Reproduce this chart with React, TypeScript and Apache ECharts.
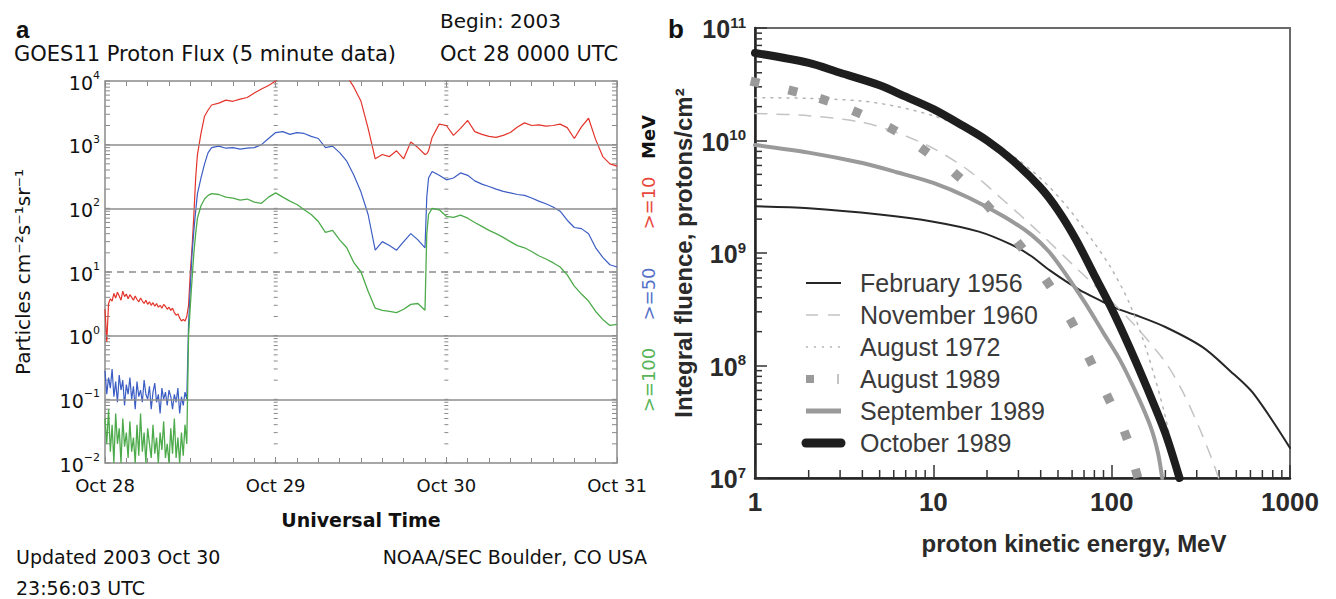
import React, { useEffect, useRef } from 'react';
import * as echarts from 'echarts';

// ---------- Panel a : GOES11 proton flux ----------
const hours = [
  0, 0.25, 0.5, 0.75, 1, 1.25, 1.5, 1.75, 2, 2.25, 2.5, 2.75, 3, 3.25, 3.5, 3.75, 4, 4.25, 4.5, 4.75,
  5, 5.25, 5.5, 5.75, 6, 6.25, 6.5, 6.75, 7, 7.25, 7.5, 7.75, 8, 8.25, 8.5, 8.75, 9, 9.25, 9.5, 9.75,
  10, 10.25, 10.5, 10.75, 11, 11.25, 11.5,
  11.75, 12, 12.25, 12.5, 12.75, 13, 13.5, 14, 14.5, 15,
  16, 17, 18, 19, 20, 21, 22, 23, 24, 25, 26, 27, 28, 29, 30, 31, 32, 33, 34, 35, 36, 37, 38, 39, 40,
  41, 42, 43, 44, 45, 45.25, 45.5,
  46, 47, 48, 49, 50, 51, 52, 53, 54, 55, 56, 57, 58, 59, 60, 61, 62, 63, 64, 65, 66, 67, 68, 69, 70, 71, 72,
];
const flux10 = [
  2.6, 0.8, 3.2, 3.8, 3.5, 4.6, 3.9, 4.8, 4.2, 3.6, 5.0, 4.1, 4.5, 3.8, 4.4, 4.0, 3.6, 4.2, 3.7, 3.4,
  3.9, 3.5, 3.2, 3.6, 3.1, 3.4, 3.0, 3.3, 2.9, 3.2, 2.8, 3.0, 2.7, 3.1, 2.9, 2.6, 2.8, 2.5, 2.7, 2.3,
  2.1, 2.2, 1.9, 1.7, 1.8, 1.7, 2.0,
  3.0, 10, 25, 80, 300, 700, 1500, 2800, 3500, 4200,
  4500, 5000, 4800, 5200, 5500, 6500, 7500, 8500, 10000, 13000, 15000, 16000, 16000, 16000, 15000,
  15000, 14000, 13000, 12000, 8000, 4800, 1800, 600, 700, 650, 800, 600, 1100, 900, 700, 720, 800,
  1300, 2100, 2000, 1400, 1800, 2400, 1600, 1450, 1350, 1300, 1400, 1550, 1900, 2200, 2000, 2050,
  1950, 2000, 2100, 1850, 1250, 1900, 2600, 1200, 650, 500, 460,
];
const flux50 = [
  0.28, 0.12, 0.22, 0.15, 0.3, 0.11, 0.19, 0.09, 0.24, 0.14, 0.2, 0.08, 0.17, 0.12, 0.22, 0.1, 0.16, 0.07, 0.19, 0.11,
  0.14, 0.09, 0.2, 0.12, 0.1, 0.16, 0.07, 0.13, 0.18, 0.09, 0.12, 0.06, 0.15, 0.1, 0.13, 0.08, 0.14, 0.11, 0.07, 0.12,
  0.09, 0.15, 0.06, 0.11, 0.08, 0.13, 0.1,
  1.5, 6, 20, 45, 90, 170, 300, 500, 750, 900,
  950, 880, 900, 850, 880, 900, 1000, 1250, 1550, 1600, 1450, 1550, 1500, 1350, 1250,
  900, 950, 750, 550, 330, 180, 80, 22, 30, 26, 22, 30, 40, 32, 24, 150, 300,
  380, 330, 280, 300, 360, 330, 270, 240, 220, 200, 185, 175, 165, 160, 145, 130,
  118, 105, 90, 65, 50, 48, 40, 24, 17, 13, 12,
];
const flux100 = [
  0.05, 0.02, 0.07, 0.015, 0.04, 0.01, 0.06, 0.02, 0.035, 0.01, 0.05, 0.018, 0.03, 0.012, 0.045, 0.015, 0.025, 0.01, 0.04, 0.013,
  0.06, 0.015, 0.03, 0.01, 0.035, 0.02, 0.012, 0.04, 0.014, 0.025, 0.01, 0.03, 0.016, 0.045, 0.012, 0.02, 0.01, 0.035, 0.014, 0.05,
  0.012, 0.025, 0.01, 0.03, 0.013, 0.04, 0.02,
  1.0, 3, 8, 20, 40, 70, 110, 140, 160, 170,
  165, 150, 145, 135, 140, 125, 120, 150, 175, 150, 130, 115, 95, 80, 62,
  42, 45, 32, 24, 14, 10, 5, 2.7, 2.5, 2.4, 2.3, 2.6, 3.1, 3.2, 2.5, 40, 80,
  100, 95, 75, 72, 78, 70, 60, 52, 45, 40, 35, 30, 26, 24, 21, 18,
  16, 14, 12, 9, 6, 4.5, 3.5, 2.4, 1.8, 1.45, 1.5,
];
const dayLabels = ['Oct 28', 'Oct 29', 'Oct 30', 'Oct 31'];
const fluxNames = ['>=100', '>=50', '>=10'];

// ---------- Panel b : integral fluence spectra ----------
const seriesNames = ['February 1956', 'November 1960', 'August 1972', 'August 1989', 'September 1989', 'October 1989'];
const febE = [1, 2, 5, 10, 18, 27, 35, 45, 66, 86, 107, 137, 200, 325, 460, 620, 1000];
const febF = [2.6e9, 2.5e9, 2.2e9, 1.9e9, 1.55e9, 1.2e9, 9.5e8, 7e8, 4.7e8, 3.8e8, 3.2e8, 2.8e8, 2.2e8, 1.45e8, 9e7, 5.7e7, 1.85e7];
const novE = [1, 2, 4, 6.3, 10, 15.8, 25, 40, 63, 100, 141, 200, 251, 316, 363, 398];
const novF = [1.74e10, 1.66e10, 1.45e10, 1.17e10, 8.5e9, 5.4e9, 2.9e9, 1.48e9, 7.4e8, 3.7e8, 2.1e8, 1.07e8, 5.8e7, 2.6e7, 1.5e7, 1e7];
const aug72E = [1, 2, 4, 6.3, 10, 14.1, 20, 28.2, 40, 56, 79, 100, 126, 158, 200, 234];
const aug72F = [2.4e10, 2.37e10, 2.24e10, 2.0e10, 1.66e10, 1.35e10, 1.02e10, 7.2e9, 4.6e9, 2.6e9, 1.26e9, 7.2e8, 3.55e8, 1.32e8, 3.5e7, 1e7];
const aug89E = [1, 1.63, 2.44, 3.73, 5.9, 8.9, 13.6, 20.3, 30.6, 44, 60, 76, 96, 120, 138];
const aug89F = [3.3e10, 2.75e10, 2.3e10, 1.78e10, 1.26e10, 8.2e9, 4.9e9, 2.6e9, 1.17e9, 5.4e8, 2.4e8, 1.1e8, 5.1e7, 2.4e7, 1.1e7];
const sepE = [1, 2, 4, 6.3, 10, 15.8, 25, 35.5, 44.7, 56, 71, 89, 112, 141, 166, 182, 192];
const sepF = [9.1e9, 7.8e9, 6.3e9, 5.2e9, 4.2e9, 3.1e9, 2.1e9, 1.45e9, 1.02e9, 6.3e8, 3.6e8, 2.0e8, 1.1e8, 5.2e7, 2.8e7, 1.66e7, 1e7];
const octE = [1, 2, 3, 5, 7, 10, 14, 20, 28, 40, 50, 63, 79, 100, 126, 158, 200, 240];
const octF = [6.0e10, 4.9e10, 4.0e10, 3.1e10, 2.45e10, 1.9e10, 1.41e10, 1.0e10, 6.6e9, 3.8e9, 2.4e9, 1.32e9, 6.6e8, 3.2e8, 1.45e8, 6.3e7, 2.5e7, 1e7];

const FA = '"DejaVu Sans", sans-serif';
const FB = '"Liberation Sans", Arial, sans-serif';

const pairs = (xs: number[], ys: number[]) => xs.map((x, i) => [x, ys[i]]);
const expText = (v: number) => {
  const e = Math.round(Math.log10(v));
  return e < 0 ? '\u2212' + -e : String(e);
};
const logMinors = (from: number, to: number, mults: number[]) => {
  const out: number[] = [];
  for (let e = from; e <= to; e++) for (const m of mults) out.push(m * Math.pow(10, e));
  return out;
};

export default function App() {
  const ref = useRef<HTMLDivElement>(null);
  useEffect(() => {
    const chart = echarts.init(ref.current!, undefined, { renderer: 'svg' });

    const redC = '#e3342b';
    const blueC = '#3c5ec4';
    const greenC = '#4dab4b';
    const axisGrey = '#8a8a8a';

    const aTickVals = logMinors(-2, 3, [1, 2, 3, 4, 5, 6, 7, 8, 9]).concat([10000]);
    const bYMinor = logMinors(7, 10, [2, 3, 4, 5, 6, 7, 8, 9]);
    const bXMinor = logMinors(0, 2, [2, 3, 4, 5, 6, 7, 8, 9]);

    const aug89Data = aug89E.map((e, i) => {
      const a = Math.max(0, i - 1);
      const b = Math.min(aug89E.length - 1, i + 1);
      const dx = (Math.log10(aug89E[b]) - Math.log10(aug89E[a])) * 178;
      const dy = (Math.log10(aug89F[b]) - Math.log10(aug89F[a])) * 112.5;
      return { value: [e, aug89F[i]], symbolRotate: (Math.atan2(dy, dx) * 180) / Math.PI };
    });

    const legendStyles: any[] = [
      { stroke: '#262626', lineWidth: 2 },
      { stroke: '#c4c4c4', lineWidth: 1.5, lineDash: [12, 10] },
      { stroke: '#b5b5b5', lineWidth: 1.5, lineDash: [2, 6] },
      null,
      { stroke: '#9a9a9a', lineWidth: 5 },
      { stroke: '#1e1e1e', lineWidth: 9, lineCap: 'round' },
    ];
    const legendEls: any[] = [];
    seriesNames.forEach((name, i) => {
      const y = 283 + i * 32;
      if (legendStyles[i]) {
        legendEls.push({ type: 'line', shape: { x1: 806, y1: y, x2: 841, y2: y }, style: legendStyles[i] });
      } else {
        legendEls.push({ type: 'rect', shape: { x: 806, y: y - 4, width: 8, height: 8 }, style: { fill: '#9a9a9a' } });
        legendEls.push({ type: 'line', shape: { x1: 838, y1: y - 5, x2: 838, y2: y + 5 }, style: { stroke: '#b0b0b0', lineWidth: 1.5 } });
      }
      legendEls.push({
        type: 'text', x: 860, y,
        style: { text: name, font: `25px ${FB}`, fill: '#3a3a3a', textAlign: 'left', textVerticalAlign: 'middle', align: 'left', verticalAlign: 'middle' },
      });
    });

    const txt = (text: string, x: number, y: number, font: string, align = 'left', fill = '#111', rotation = 0) => ({
      type: 'text', x, y, rotation,
      style: { text, font, fill, textAlign: align, textVerticalAlign: 'middle', align, verticalAlign: 'middle' },
    });

    const smoothLine = (name: string, xs: number[], ys: number[], color: string, width: number, type: any, z: number) => ({
      name, type: 'line', xAxisIndex: 2, yAxisIndex: 1, showSymbol: false, smooth: 0.3, z,
      data: pairs(xs, ys), lineStyle: { color, width, type, cap: 'round' }, itemStyle: { color },
    });

    const option: any = {
      animation: false,
      backgroundColor: '#ffffff',
      grid: [
        { left: 105, top: 81, width: 512, height: 382, show: true, borderColor: axisGrey, borderWidth: 1.5, backgroundColor: 'transparent' },
        { left: 755, top: 28, width: 535, height: 450, show: true, borderColor: '#6a6a6a', borderWidth: 2, backgroundColor: 'transparent' },
      ],
      xAxis: [
        {
          type: 'value', gridIndex: 0, min: 0, max: 72, interval: 24,
          axisLine: { show: false },
          axisTick: { inside: true, length: 6, lineStyle: { color: axisGrey } },
          minorTick: { show: true, splitNumber: 8, length: 5, lineStyle: { color: axisGrey } },
          splitLine: { show: false },
          axisLabel: { formatter: (v: number) => dayLabels[Math.round(v / 24)], fontSize: 18, fontFamily: FA, color: '#111', margin: 13 },
          name: 'Universal Time', nameLocation: 'middle', nameGap: 47,
          nameTextStyle: { fontSize: 19, fontWeight: 'bold', fontFamily: FA, color: '#111' },
        },
        {
          type: 'value', gridIndex: 0, position: 'top', min: 0, max: 72, interval: 24,
          axisLine: { show: false },
          axisTick: { inside: true, length: 6, lineStyle: { color: axisGrey } },
          minorTick: { show: true, splitNumber: 8, length: 5, lineStyle: { color: axisGrey } },
          splitLine: { show: false },
          axisLabel: { show: false },
        },
        {
          type: 'log', logBase: 10, gridIndex: 1, min: 1, max: 1000, splitNumber: 3,
          axisLine: { show: true, lineStyle: { color: '#222', width: 2.5 } },
          axisTick: { inside: true, length: 13, lineStyle: { color: '#333', width: 1.5 } },
          splitLine: { show: false },
          axisLabel: {
            fontSize: 26, fontWeight: 'bold', fontFamily: FB, color: '#2a2a2a', margin: 11, showMaxLabel: true,
            formatter: (v: number) => String(Math.round(v)),
          },
        },
      ],
      yAxis: [
        {
          type: 'log', logBase: 10, gridIndex: 0, min: 0.01, max: 10000, splitNumber: 6,
          axisLine: { show: false },
          axisTick: { show: false },
          splitLine: { show: false },
          axisLabel: {
            margin: 5,
            formatter: (v: number) => `{b|10}{s|${expText(v)}}`,
            rich: {
              b: { fontSize: 19, fontFamily: FA, color: '#111', verticalAlign: 'bottom', lineHeight: 22 },
              s: { fontSize: 11, fontFamily: FA, color: '#111', verticalAlign: 'top', lineHeight: 11 },
            },
          },
          name: 'Particles cm\u207B\u00B2s\u207B\u00B9sr\u207B\u00B9', nameLocation: 'middle', nameGap: 72, nameRotate: 90,
          nameTextStyle: { fontSize: 20, fontFamily: FA, color: '#111' },
        },
        {
          type: 'log', logBase: 10, gridIndex: 1, min: 1e7, max: 1e11, splitNumber: 4,
          axisLine: { show: true, lineStyle: { color: '#222', width: 2.5 } },
          axisTick: { inside: true, length: 12, lineStyle: { color: '#333', width: 1.5 } },
          splitLine: { show: false },
          axisLabel: {
            margin: 9,
            formatter: (v: number) => `{b|10}{s|${expText(v)}}`,
            rich: {
              b: { fontSize: 25, fontWeight: 'bold', fontFamily: FB, color: '#2a2a2a', verticalAlign: 'bottom', lineHeight: 27 },
              s: { fontSize: 15, fontWeight: 'bold', fontFamily: FB, color: '#2a2a2a', verticalAlign: 'top', lineHeight: 15 },
            },
          },
          name: 'Integral fluence, protons/cm\u00B2', nameLocation: 'middle', nameGap: 60, nameRotate: 90,
          nameTextStyle: { fontSize: 24, fontWeight: 'bold', fontFamily: FB, color: '#2a2a2a' },
        },
      ],
      series: [
        {
          type: 'custom', xAxisIndex: 0, yAxisIndex: 0, silent: true, z: 1,
          data: aTickVals.map((v) => [0, v]),
          renderItem: (params: any, api: any) => {
            const v = api.value(1);
            const l = api.coord([0, v]);
            const r = api.coord([72, v]);
            const d1 = api.coord([24, v]);
            const d2 = api.coord([48, v]);
            const st = { stroke: axisGrey, lineWidth: 1 };
            return {
              type: 'group',
              children: [
                { type: 'line', shape: { x1: l[0], y1: l[1], x2: l[0] + 5, y2: l[1] }, style: st },
                { type: 'line', shape: { x1: r[0] - 5, y1: r[1], x2: r[0], y2: r[1] }, style: st },
                { type: 'line', shape: { x1: d1[0] - 2, y1: d1[1], x2: d1[0] + 2, y2: d1[1] }, style: st },
                { type: 'line', shape: { x1: d2[0] - 2, y1: d2[1], x2: d2[0] + 2, y2: d2[1] }, style: st },
              ],
            };
          },
        },
        {
          name: fluxNames[2], type: 'line', xAxisIndex: 0, yAxisIndex: 0, showSymbol: false, z: 3,
          data: pairs(hours, flux10), lineStyle: { color: redC, width: 1.2 }, itemStyle: { color: redC },
          markLine: {
            silent: true, symbol: ['none', 'none'], label: { show: false },
            lineStyle: { color: '#8c8c8c', width: 1.5, type: 'solid' },
            data: [
              { yAxis: 1000 }, { yAxis: 100 },
              { yAxis: 10, lineStyle: { type: [7, 5], color: '#8c8c8c', width: 1.5 } },
              { yAxis: 1 }, { yAxis: 0.1 },
            ],
          },
        },
        {
          name: fluxNames[1], type: 'line', xAxisIndex: 0, yAxisIndex: 0, showSymbol: false, z: 4,
          data: pairs(hours, flux50), lineStyle: { color: blueC, width: 1.2 }, itemStyle: { color: blueC },
        },
        {
          name: fluxNames[0], type: 'line', xAxisIndex: 0, yAxisIndex: 0, showSymbol: false, z: 5,
          data: pairs(hours, flux100), lineStyle: { color: greenC, width: 1.3 }, itemStyle: { color: greenC },
        },
        // panel b minor ticks
        {
          type: 'custom', xAxisIndex: 2, yAxisIndex: 1, silent: true, z: 2,
          data: bYMinor.map((v) => [1, v]),
          renderItem: (params: any, api: any) => {
            const p = api.coord([api.value(0), api.value(1)]);
            return { type: 'line', shape: { x1: p[0], y1: p[1], x2: p[0] + 7, y2: p[1] }, style: { stroke: '#333', lineWidth: 1.5 } };
          },
        },
        {
          type: 'custom', xAxisIndex: 2, yAxisIndex: 1, silent: true, z: 2,
          data: bXMinor.map((v) => [v, 1e7]),
          renderItem: (params: any, api: any) => {
            const p = api.coord([api.value(0), api.value(1)]);
            return { type: 'line', shape: { x1: p[0], y1: p[1], x2: p[0], y2: p[1] - 8 }, style: { stroke: '#333', lineWidth: 1.5 } };
          },
        },
        smoothLine(seriesNames[0], febE, febF, '#262626', 2, 'solid', 3),
        smoothLine(seriesNames[1], novE, novF, '#c4c4c4', 1.5, [12, 10], 3),
        smoothLine(seriesNames[2], aug72E, aug72F, '#b5b5b5', 1.5, [2, 6], 3),
        {
          name: seriesNames[3], type: 'line', xAxisIndex: 2, yAxisIndex: 1, showSymbol: true, showAllSymbol: true,
          symbol: 'rect', symbolSize: 9, z: 4,
          data: aug89Data, lineStyle: { width: 0, opacity: 0 }, itemStyle: { color: '#9a9a9a' },
        },
        smoothLine(seriesNames[4], sepE, sepF, '#9a9a9a', 4, 'solid', 4),
        smoothLine(seriesNames[5], octE, octF, '#1e1e1e', 8, 'solid', 5),
      ],
      graphic: [
        txt('a', 16, 29, `bold 24px ${FB}`, 'left', '#111'),
        txt('Begin: 2003', 440, 21, `20px ${FA}`),
        txt('GOES11 Proton Flux (5 minute data)', 14, 54, `21px ${FA}`),
        txt('Oct 28 0000 UTC', 440, 54, `21px ${FA}`),
        txt('Updated 2003 Oct 30', 16, 557, `19px ${FA}`),
        txt('23:56:03 UTC', 16, 588, `19px ${FA}`),
        txt('NOAA/SEC Boulder, CO USA', 647, 557, `19px ${FA}`, 'right'),
        txt('MeV', 648, 137, `bold 18px ${FA}`, 'center', '#111', Math.PI / 2),
        txt(fluxNames[2], 648, 203, `18px ${FA}`, 'center', '#e8473d', Math.PI / 2),
        txt(fluxNames[1], 648, 294, `18px ${FA}`, 'center', '#5671c8', Math.PI / 2),
        txt(fluxNames[0], 648, 380, `18px ${FA}`, 'center', '#57b357', Math.PI / 2),
        txt('b', 668, 29, `bold 26px ${FB}`, 'left', '#111'),
        txt('proton kinetic energy, MeV', 1074, 543, `bold 24px ${FB}`, 'center', '#2a2a2a'),
        ...legendEls,
      ],
    };
    chart.setOption(option);
    return () => chart.dispose();
  }, []);
  return <div ref={ref} style={{ position: 'absolute', left: 0, top: 0, width: 1336, height: 599, background: '#fff' }} />;
}
